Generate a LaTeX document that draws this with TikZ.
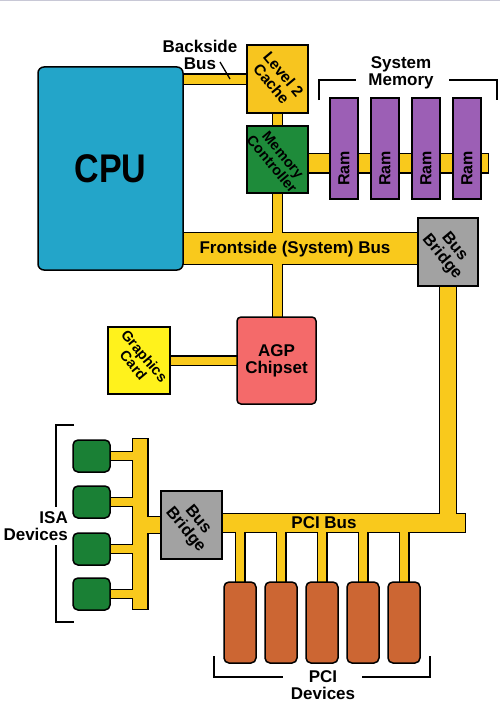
\documentclass[tikz,border=0pt]{standalone}
\usepackage{fontspec}
\setmainfont{Liberation Sans}
\usetikzlibrary{calc}
\definecolor{busyellow}{HTML}{F9C91C}
\definecolor{cpublue}{HTML}{23A5C9}
\definecolor{cachegold}{HTML}{F7C51F}
\definecolor{mcgreen}{HTML}{1E8B3A}
\definecolor{isagreen}{HTML}{1A8035}
\definecolor{rampurple}{HTML}{9C5FB5}
\definecolor{bridgegray}{HTML}{A2A2A2}
\definecolor{agpred}{HTML}{F46A6A}
\definecolor{gcyellow}{HTML}{FFF21C}
\definecolor{pciorange}{HTML}{CC6633}
\definecolor{topline}{HTML}{C8C8D6}
\pgfdeclarelayer{busout}
\pgfdeclarelayer{busin}
\pgfsetlayers{busout,busin,main}
\newcommand\busbar[3]{%
  \begin{pgfonlayer}{busout}\draw[line width=#2pt,line cap=rect,black] #3;\end{pgfonlayer}%
  \begin{pgfonlayer}{busin}\draw[line width=#1pt,line cap=rect,busyellow] #3;\end{pgfonlayer}}
\tikzset{
  blk/.style={draw=black,line width=1.5pt,inner sep=0pt,outer sep=0pt,anchor=north west},
  lab/.style={font=\fontsize{17}{17}\selectfont\bfseries,align=center,inner sep=0pt},
  rlab/.style={font=\fontsize{#1}{#1}\selectfont\bfseries,align=center,inner sep=0pt,rotate=-50},
  brk/.style={line width=1.6pt,black},
}
\begin{document}
\begin{tikzpicture}[x=1pt,y=-1pt]
\useasboundingbox (0,0) rectangle (500,709);
\fill[topline] (0,0) rectangle (500,1.5);
% boxes
\node[blk,fill=cpublue,rounded corners=6pt,minimum width=145pt,minimum height=203pt] (cpu) at (38,67) {};
\node[lab,font=\bfseries] at (cpu.center) {\scalebox{0.85}[1]{\fontsize{40}{40}\selectfont CPU}};
\node[blk,fill=cachegold,minimum width=61pt,minimum height=68pt] (l2) at (247,45) {};
\node[rlab=15.5] at (l2.center) {Level 2\\Cache};
\node[blk,fill=mcgreen,minimum width=61pt,minimum height=67pt] (mc) at (247,126) {};
\node[rlab=14.5] at (mc.center) {Memory\\Controller};
\foreach \i/\x in {1/330,2/371,3/412,4/453}{
  \node[blk,fill=rampurple,minimum width=28pt,minimum height=101pt] (ram\i) at (\x,98) {};
  \node[font=\fontsize{16}{16}\selectfont\bfseries,inner sep=0pt,rotate=90] at ($(ram\i.center)+(0,20)$) {Ram};
}
\node[blk,fill=bridgegray,minimum width=60pt,minimum height=68pt] (bb1) at (418,218) {};
\node[rlab=16.5] at (bb1.center) {Bus\\Bridge};
\node[blk,fill=agpred,rounded corners=4pt,minimum width=79pt,minimum height=87pt] (agp) at (237,317) {};
\node[lab] at (agp.center) {AGP\\Chipset};
\node[blk,fill=gcyellow,minimum width=62pt,minimum height=67pt] (gc) at (108,327) {};
\node[rlab=14.5] at (gc.center) {Graphics\\Card};
\node[blk,fill=bridgegray,minimum width=61pt,minimum height=68pt] (bb2) at (161,491) {};
\node[rlab=16.5] at (bb2.center) {Bus\\Bridge};
\foreach \i/\y in {1/440,2/486,3/533,4/578}{
  \node[blk,fill=isagreen,rounded corners=5pt,minimum width=37pt,minimum height=32pt] (isa\i) at (73,\y) {};
}
\foreach \i/\x in {1/224,2/265,3/306,4/347,5/388}{
  \node[blk,fill=pciorange,rounded corners=5pt,minimum width=32pt,minimum height=81pt] (pci\i) at (\x,582) {};
}
% reference coordinates for buses
\coordinate (fsb) at (300,248.5);
\coordinate (membus) at (400,163);
\coordinate (memend) at (478.5,163);
\coordinate (pcibus) at (300,523);
\coordinate (pciend) at (456,523);
\coordinate (isatop) at (140,446.5);
\coordinate (isabot) at (140,601.5);
\coordinate (isain) at (146,525);
% buses
\busbar{9}{11.4}{(cpu.east |- l2.west) -- (l2.west)}
\busbar{9}{11.4}{(l2.south) -- (mc.north)}
\busbar{18.6}{21}{(mc.east |- membus) -- (memend)}
\busbar{9}{11.4}{(mc.south) -- (mc.south |- agp.north)}
\busbar{30.6}{33}{(cpu.east |- fsb) -- (bb1.west |- fsb)}
\busbar{16}{18.4}{(bb1.south) -- (bb1.south |- pcibus)}
\busbar{17.6}{20}{(bb2.east |- pcibus) -- (pciend)}
\foreach \i in {1,...,5}{\busbar{8.6}{11}{(pci\i.north) -- (pci\i.north |- pcibus)}}
\busbar{8}{10.4}{(gc.east) -- (agp.west |- gc.east)}
\busbar{14.6}{17}{(isatop) -- (isabot)}
\busbar{16}{18.4}{(bb2.west) -- (bb2.west -| isain)}
\foreach \i in {1,...,4}{\busbar{8}{10.4}{(isa\i.east) -- (isa\i.east -| isatop)}}
% labels
\node[lab] (bslab) at (200,55) {Backside\\Bus};
\coordinate (bsa) at (220,62);
\coordinate (bsb) at (230,79);
\draw[line width=1.3pt] (bsa) -- (bsb);
\node[lab] (smlab) at (401,73) {System\\Memory};
\node[lab] (fsblab) at (295,249) {Frontside (System) Bus};
\node[lab] (pcilab) at (324,523) {PCI Bus};
\node[lab,align=right,anchor=east] (isalab) at (68,526) {ISA\\Devices};
\node[lab] (pcidlab) at (323,685) {PCI\\Devices};
% brackets
\coordinate (sm1) at (319,100); \coordinate (sm2) at (319,80); \coordinate (sm3) at (356,80);
\coordinate (sm4) at (449,80); \coordinate (sm5) at (497,80); \coordinate (sm6) at (497,100);
\draw[brk] (sm1) -- (sm2) -- (sm3);
\draw[brk] (sm4) -- (sm5) -- (sm6);
\coordinate (ib1) at (74,425); \coordinate (ib2) at (56,425); \coordinate (ib3) at (56,507);
\coordinate (ib4) at (56,545); \coordinate (ib5) at (56,622); \coordinate (ib6) at (74,622);
\draw[brk] (ib1) -- (ib2) -- (ib3);
\draw[brk] (ib4) -- (ib5) -- (ib6);
\coordinate (pb1) at (214,656); \coordinate (pb2) at (214,677); \coordinate (pb3) at (283,677);
\coordinate (pb4) at (362,677); \coordinate (pb5) at (430,677); \coordinate (pb6) at (430,656);
\draw[brk] (pb1) -- (pb2) -- (pb3);
\draw[brk] (pb4) -- (pb5) -- (pb6);
\end{tikzpicture}
\end{document}
